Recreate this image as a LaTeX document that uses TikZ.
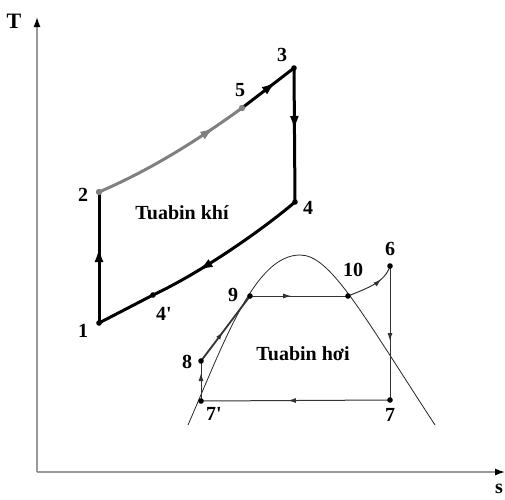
\documentclass[tikz,border=0pt]{standalone}
\usepackage{fontspec}
\setmainfont{Liberation Serif}
\usetikzlibrary{arrows.meta,decorations.markings}
\tikzset{
  lab/.style={font=\fontsize{20}{22}\selectfont\bfseries, inner sep=0pt},
  axisline/.style={draw=gray!80, line width=1.4pt, -{Latex[length=10pt,width=7pt,color=black]}},
  thick cyc/.style={line width=3pt, line cap=round, line join=round},
  thin cyc/.style={draw=black!80, line width=1pt},
  bigarrow/.style={postaction={decorate},decoration={markings,mark=at position #1 with {\arrow{Latex[length=15pt,width=9pt]}}}},
  smallarrow/.style={postaction={decorate},decoration={markings,mark=at position #1 with {\arrow{Latex[length=8pt,width=5pt]}}}},
}
\begin{document}
\begin{tikzpicture}[x=1pt,y=-1pt]
\useasboundingbox (0,0) rectangle (505,499);
% axes
\coordinate (O) at (37,472);
\coordinate (Ytip) at (37,17);
\coordinate (Xtip) at (505,472);
\draw[axisline] (O) -- (Ytip);
\draw[axisline] (O) -- (Xtip);
\node[lab, font=\fontsize{22}{24}\selectfont\bfseries] (T) at (14,21) {T};
\node[lab] (s) at (499,489) {s};
% points
\coordinate (p1) at (99,323);
\coordinate (p2) at (99,192);
\coordinate (p3) at (294,68);
\coordinate (p4) at (295,202);
\coordinate (p4p) at (153,295);
\coordinate (p5) at (242,108);
\coordinate (p6) at (390,266);
\coordinate (p7) at (390,400);
\coordinate (p7p) at (201,401);
\coordinate (p8) at (201,361);
\coordinate (p9) at (250,296);
\coordinate (p10) at (348,296);
\coordinate (dL) at (188,425);
\coordinate (dT) at (300,255);
\coordinate (dR) at (435,425);
% saturation dome
\draw[black!85, line width=0.8pt] (dL) .. controls (225,340) and (255,255) .. (dT)
  .. controls (330,255) and (360,310) .. (dR);
% gas turbine cycle
\draw[thick cyc, bigarrow=0.58] (p1) -- (p2);
\draw[thick cyc, gray, bigarrow=0.8] (p2) .. controls (150,170) and (195,142) .. (p5);
\draw[thick cyc, bigarrow=0.66] (p5) -- (p3);
\draw[thick cyc, bigarrow=0.47] (p3) -- (p4);
\draw[thick cyc, bigarrow=0.7] (p4) .. controls (262,230) and (202,272) .. (p4p);
\draw[thick cyc] (p4p) -- (p1);
% steam cycle
\draw[thin cyc, smallarrow=0.7] (p7p) -- (p8);
\draw[thin cyc, line width=1.8pt, smallarrow=0.45] (p8) -- (p9);
\draw[thin cyc, smallarrow=0.42] (p9) -- (p10);
\draw[thin cyc, smallarrow=0.7] (p10) .. controls (368,288) and (385,282) .. (p6);
\draw[thin cyc, smallarrow=0.56] (p6) -- (p7);
\draw[thin cyc, smallarrow=0.54] (p7) -- (p7p);
% dots
\foreach \p in {p1,p3,p4,p4p,p6,p7,p7p,p8,p9,p10} \fill (\p) circle (2.8);
\fill[gray] (p2) circle (3.2);
\fill[gray] (p5) circle (3.2);
% labels
\node[lab] (l1) at (83,331) {1};
\node[lab] (l2) at (83,195) {2};
\node[lab] (l3) at (282,55) {3};
\node[lab] (l4) at (308,208) {4};
\node[lab] (l4p) at (164,314) {4\textquotesingle};
\node[lab] (l5) at (240,90) {5};
\node[lab] (l6) at (390,249) {6};
\node[lab] (l7) at (390,415) {7};
\node[lab] (l7p) at (214,414) {7\textquotesingle};
\node[lab] (l8) at (187,362) {8};
\node[lab] (l9) at (233,295) {9};
\node[lab] (l10) at (353,270) {10};
\node[lab] (tk) at (182,213) {Tuabin khí};
\node[lab] (th) at (303,354) {Tuabin hơi};
\end{tikzpicture}
\end{document}
